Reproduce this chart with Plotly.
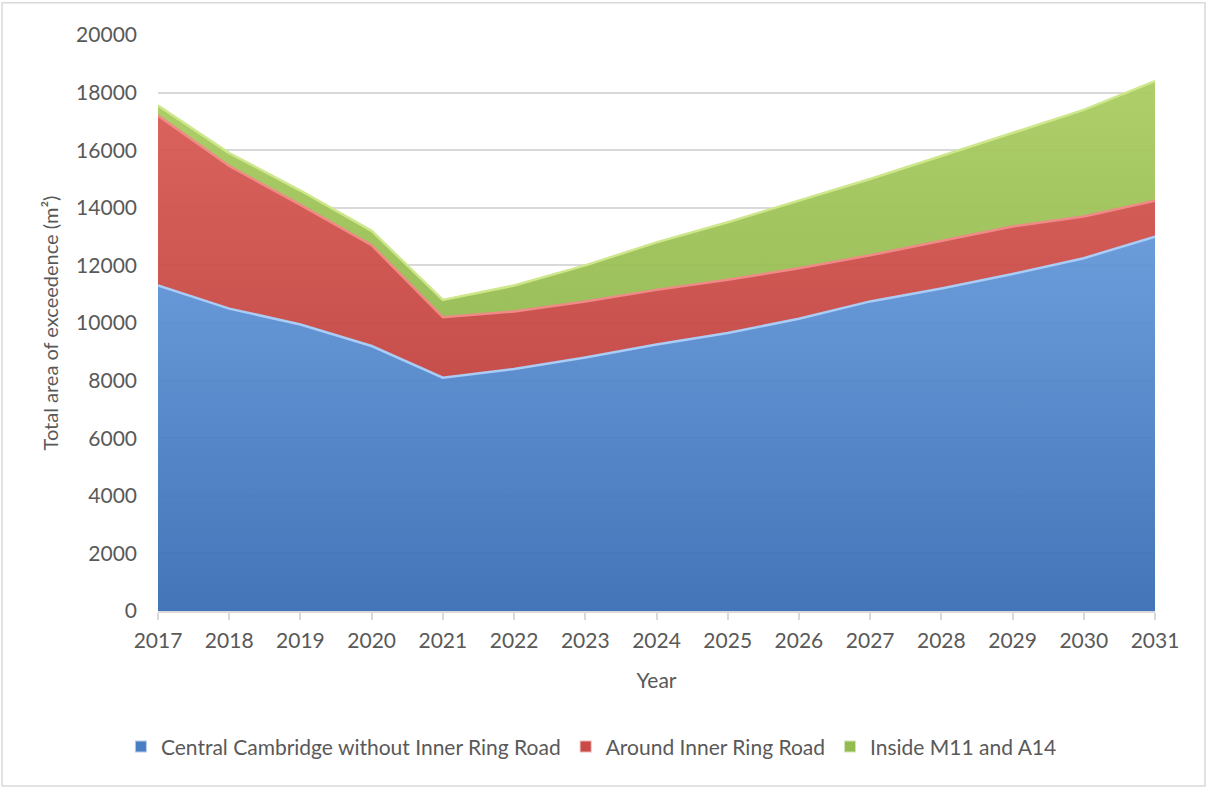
import plotly.graph_objects as go

# Years on the x axis
years = list(range(2017, 2032))

# Area of exceedence per zone (m²), stacked
central_without_irr = [11300, 10500, 9950, 9200, 8100, 8400, 8800, 9250, 9650, 10150, 10750, 11200, 11700, 12250, 13000]
around_irr = [5900, 4950, 4150, 3500, 2100, 2000, 1950, 1900, 1850, 1750, 1600, 1650, 1650, 1450, 1250]
inside_m11_a14 = [350, 450, 500, 500, 600, 900, 1250, 1650, 2000, 2350, 2650, 2950, 3250, 3700, 4150]

y_ticks = list(range(0, 20001, 2000))

FONT = "Lato, 'Open Sans', sans-serif"
TXT = "#595959"

fig = go.Figure()

series = [
    ("Central Cambridge without Inner Ring Road", central_without_irr,
     [[0, "rgba(56,108,180,0.94)"], [1, "rgba(98,150,216,0.94)"]], "#a9cdf6", "#4a7ec4"),
    ("Around Inner Ring Road", around_irr,
     [[0, "rgba(196,70,66,0.95)"], [1, "rgba(216,90,84,0.95)"]], "#ef8a86", "#c94a46"),
    ("Inside M11 and A14", inside_m11_a14,
     [[0, "rgba(150,188,82,0.95)"], [1, "rgba(170,204,98,0.95)"]], "#cde78a", "#94bb4f"),
]

for name, vals, scale, edge, legend_col in series:
    fig.add_trace(go.Scatter(
        x=years, y=vals, name=name, mode="lines",
        stackgroup="zones", showlegend=False,
        line=dict(color=edge, width=2.5, shape="linear"),
        fillgradient=dict(type="vertical", colorscale=scale),
        hoverinfo="x+y+name",
    ))

# Square swatches for the legend
for name, _, _, _, legend_col in series:
    fig.add_trace(go.Scatter(
        x=[None], y=[None], name=name, mode="markers",
        marker=dict(symbol="square", size=13, color=legend_col,
                    line=dict(color="rgba(255,255,255,0.6)", width=1)),
        showlegend=True, hoverinfo="skip",
    ))

fig.update_layout(
    width=1207, height=787,
    margin=dict(l=158, r=52, t=35, b=176),
    paper_bgcolor="white", plot_bgcolor="white",
    font=dict(family=FONT, size=21, color=TXT),
    showlegend=True,
    legend=dict(
        orientation="h", xref="container", x=0.49, xanchor="center",
        yref="container", y=0.051, yanchor="middle",
        font=dict(family=FONT, size=21, color=TXT),
        itemsizing="constant", traceorder="normal", itemwidth=30,
    ),
    xaxis=dict(
        range=[2017, 2031], tickmode="array", tickvals=years,
        ticktext=[str(y) for y in years],
        showgrid=False, zeroline=False,
        showline=True, linecolor="#d9d9d9", linewidth=2,
        ticks="outside", ticklen=7, tickcolor="#d9d9d9", tickwidth=1.5,
        ticklabelstandoff=3,
        tickfont=dict(family=FONT, size=21, color=TXT),
        title=dict(text="Year", standoff=22, font=dict(family=FONT, size=21, color=TXT)),
    ),
    yaxis=dict(
        range=[0, 20000], tickmode="array", tickvals=y_ticks,
        ticktext=[str(v) for v in y_ticks],
        showgrid=True, gridcolor="#d9d9d9", gridwidth=1.5,
        zeroline=False, showline=False, ticks="",
        ticklabelstandoff=20,
        tickfont=dict(family=FONT, size=21, color=TXT),
        title=dict(text="Total area of exceedence (m²)", standoff=12,
                   font=dict(family=FONT, size=20, color=TXT)),
    ),
    shapes=[dict(type="rect", xref="paper", yref="paper",
                 x0=-156 / 997, x1=1 + 50 / 997, y0=-(176 - 2) / 573, y1=1 + 32 / 573,
                 line=dict(color="#d9d9d9", width=1.5), fillcolor="rgba(0,0,0,0)",
                 layer="below")],
)

fig.write_html("out.html")
